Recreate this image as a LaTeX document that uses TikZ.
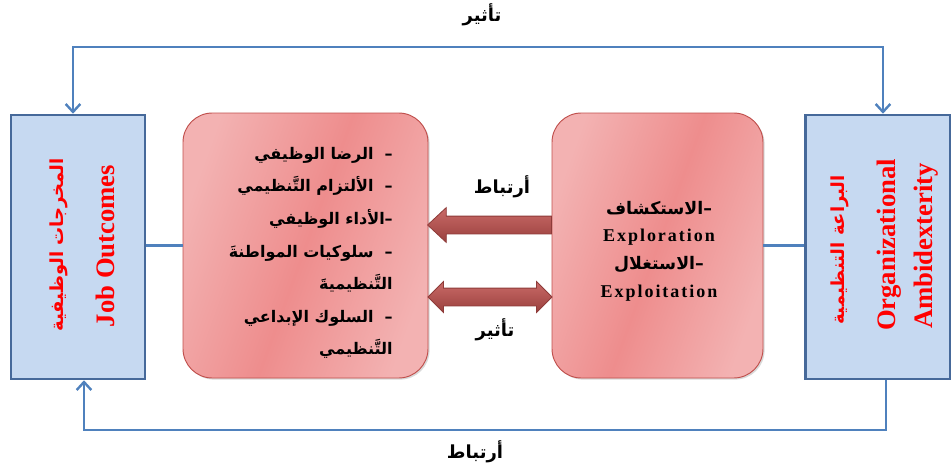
\documentclass[tikz,border=0pt]{standalone}
\usepackage{fontspec}
\setmainfont{Liberation Serif}
\newfontfamily\arabicfont[Script=Arabic]{DejaVu Sans}
\newfontfamily\spacedfont[LetterSpace=11]{Liberation Serif}
\TeXXeTstate=1
\usetikzlibrary{arrows.meta,positioning,calc,shapes.arrows,shadows}
\definecolor{boxblue}{HTML}{C6D9F1}
\definecolor{borderblue}{HTML}{46699A}
\definecolor{linkblue}{HTML}{4F81BD}
\definecolor{pinklight}{HTML}{F3B2B2}
\definecolor{pinkmid}{HTML}{EE8D8D}
\definecolor{borderred}{HTML}{C0504D}
\definecolor{arrowred}{HTML}{C0504D}
\definecolor{arrowdark}{HTML}{8E3B39}
\definecolor{titlered}{HTML}{FF0000}
\newcommand{\artext}[1]{{\arabicfont\bfseries\beginR #1\endR}}

\begin{document}
\begin{tikzpicture}[x=0.75pt,y=-0.75pt,
  every node/.style={inner sep=0pt},
  varbox/.style={draw=borderblue,line width=1.9pt,fill=boxblue,minimum height=198pt},
  pinkbox/.style={draw=borderred,line width=0.7pt,rounded corners=22pt,left color=pinklight,right color=pinklight,middle color=pinkmid,shading angle=70,minimum height=198.75pt,drop shadow={opacity=0.3,shadow xshift=1.2pt,shadow yshift=-1.2pt}},
  vtitle/.style={rotate=90,text=titlered,font=\fontsize{20}{24}\selectfont\bfseries},
  vtitlear/.style={rotate=90,text=titlered,font=\fontsize{13.5}{16}\selectfont},
  link/.style={draw=linkblue,line width=1.8pt},
  barb/.tip={Straight Barb[length=6pt,width=11pt]},
  linklabel/.style={font=\fontsize{13.5}{16}\selectfont},
  listtext/.style={align=right,font=\fontsize{12}{24.4}\selectfont},
  blockarrow/.style={draw=arrowdark,line width=0.6pt,top color=arrowred!85!white,bottom color=arrowred!80!black,inner xsep=0pt,inner ysep=6.375pt,minimum width=0pt,minimum height=93pt}
]
\useasboundingbox (0,0) rectangle (951,471);

\node[varbox,minimum width=100.5pt] (jobout) at (78,247) {};
\node[varbox,minimum width=109pt] (ambid) at (878,247) {};
\node[pinkbox,minimum width=183.75pt] (satis) at (305.5,245.5) {};
\node[pinkbox,minimum width=158.25pt] (explo) at (657.5,245.5) {};

\node[vtitlear] (joboutar) at (59,245) {\artext{المخرجات الوظيفية}};
\node[vtitle] (jobouten) at (105,246) {Job Outcomes};
\node[vtitlear] (ambidar) at (840,250) {\artext{البراعة التنظيمية}};
\node[vtitle] (ambiden) at (889,245) {Organizational};
\node[vtitle] (ambiden2) at (926,246) {Ambidexterity};

\node[listtext,anchor=north east] (satlist) at (393,147) {%
  \artext{–~~الرضا الوظيفي}\\
  \artext{–~~الألتزام التَّنظيمي}\\
  \artext{–الأداء الوظيفي}\\
  \artext{–~~سلوكيات المواطنةَ}\\
  \artext{التَّنظيميةَ}\\
  \artext{–~~السلوك الإبداعي}\\
  \artext{التَّنظيمي}};
\node[align=center,font=\fontsize{13}{20.8}\selectfont] (explolist) at (659,251) {%
  \artext{–الاستكشاف}\\
  {\fontsize{13.5}{20.8}\selectfont\spacedfont\bfseries Exploration}\\
  \artext{–الاستغلال}\\
  {\fontsize{13.5}{20.8}\selectfont\spacedfont\bfseries Exploitation}};

\node[blockarrow,single arrow,shape border rotate=180,single arrow head extend=6.4pt,single arrow tip angle=86,anchor=tip] (assoc) at (427,225) {};
\node[blockarrow,double arrow,double arrow head extend=4.9pt,double arrow tip angle=90] (effect) at (490,297) {};
\node[linklabel] (assoclbl) at (502,187) {\artext{أرتباط}};
\node[linklabel] (effectlbl) at (495,330) {\artext{تأثير}};

\draw[link] (satis.west) -- (satis.west -| jobout.east);
\draw[link] (explo.east) -- (explo.east -| ambid.west);
\draw[link,barb-barb] ([xshift=-3.75pt]jobout.north) -- ++(0,-67) coordinate (topleft) -| ([xshift=3.75pt]ambid.north);
\draw[link,-barb] ([xshift=6pt]ambid.south) -- ++(0,50) coordinate (botright) -| ([xshift=4.5pt]jobout.south);
\node[linklabel] (toplbl) at (482,15) {\artext{تأثير}};
\node[linklabel] (botlbl) at (475,452) {\artext{أرتباط}};
\end{tikzpicture}
\end{document}
